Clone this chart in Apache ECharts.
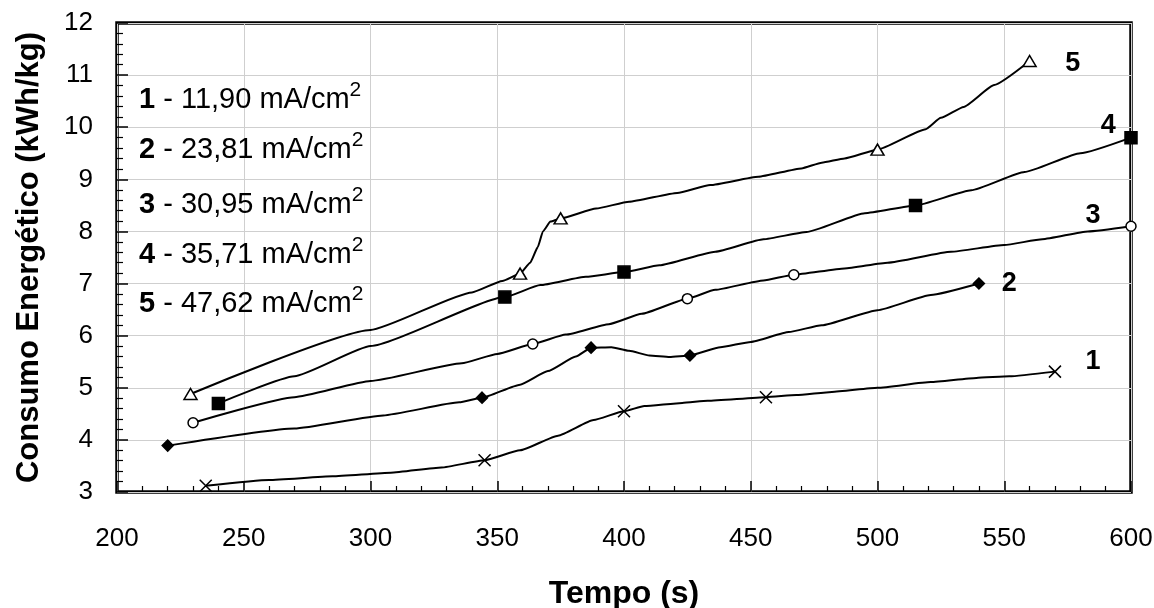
<!doctype html>
<html lang="pt">
<head>
    <meta charset="UTF-8">
    <title>Consumo Energético</title>
    <style>
        html, body { margin: 0; padding: 0; background: #fff; }
        #chart { width: 1154px; height: 608px; }
    </style>
</head>
<body>
    <div id="chart"></div>

    <script src="https://cdn.jsdelivr.net/npm/echarts@6/dist/echarts.min.js"></script>
    <script>
        // curvas (tempo s, consumo kWh/kg) e pontos marcados
        var curve1 = [[235,3.12],[260,3.23],[285,3.30],[308,3.37],[328,3.47],[345,3.61],[359,3.80],[374,4.08],[388,4.38],[400,4.55],[408,4.65],[423,4.71],[433,4.75],[456,4.82],[468,4.86],[482,4.92],[500,5.00],[521,5.11],[539,5.19],[552,5.22],[570,5.31]];
        var marks1 = [[235,3.12],[345,3.61],[400,4.55],[456,4.82],[570,5.31]];

        var curve2 = [[220,3.89],[270,4.22],[305,4.47],[335,4.72],[344,4.81],[359,5.06],[370,5.32],[381,5.60],[387,5.77],[395,5.78],[402,5.71],[410,5.62],[418,5.59],[426,5.62],[438,5.78],[450,5.88],[465,6.07],[478,6.20],[500,6.49],[521,6.78],[540,7.00]];
        var marks2 = [[220,3.89],[344,4.81],[387,5.77],[426,5.62],[540,7.00]];

        var curve3 = [[230,4.33],[270,4.82],[300,5.13],[336,5.47],[350,5.65],[364,5.84],[377,6.02],[394,6.22],[407,6.42],[425,6.71],[436,6.88],[455,7.06],[467,7.17],[487,7.29],[504,7.40],[529,7.61],[550,7.74],[565,7.85],[583,8.00],[600,8.10]];
        var marks3 = [[230,4.33],[364,5.84],[425,6.71],[467,7.17],[600,8.10]];

        var curve4 = [[240,4.70],[270,5.22],[300,5.80],[353,6.74],[367,6.97],[385,7.13],[400,7.22],[414,7.35],[436,7.61],[455,7.85],[472,7.99],[495,8.35],[515,8.50],[537,8.79],[558,9.14],[580,9.50],[600,9.80]];
        var marks4 = [[240,4.70],[353,6.74],[400,7.22],[515,8.50],[600,9.80]];

        var curve5 = [[229,4.88],[300,6.11],[340,6.83],[352,7.05],[359,7.19],[363,7.40],[366,7.70],[368,8.00],[371,8.19],[375,8.25],[389,8.44],[402,8.57],[421,8.74],[434,8.89],[453,9.05],[470,9.21],[478,9.32],[487,9.40],[500,9.57],[519,9.96],[525,10.18],[534,10.39],[546,10.81],[560,11.27]];
        var marks5 = [[229,4.88],[359,7.19],[375,8.25],[500,9.57],[560,11.27]];

        // números das curvas
        var curveLabels = [[585,5.50,'1'],[552,7.00,'2'],[585,8.31,'3'],[591,10.04,'4'],[577,11.22,'5']];

        // legenda
        var legendNums = ['1','2','3','4','5'];
        var legendVals = ['11,90','23,81','30,95','35,71','47,62'];
        var legendTops = [80, 130, 185, 235, 284];

        var font = 'Arial, "Liberation Sans", sans-serif';

        var myChart = echarts.init(document.getElementById('chart'));

        function lineSeries(data) {
            return {
                type: 'line',
                data: data,
                smooth: 0.15,
                smoothMonotone: 'x',
                symbol: 'none',
                lineStyle: { color: '#000', width: 2 },
                z: 3
            };
        }

        function markSeries(data, symbol, size, fill) {
            return {
                type: 'scatter',
                data: data,
                symbol: symbol,
                symbolSize: size,
                itemStyle: { color: fill, borderColor: '#000', borderWidth: 1.5, opacity: 1 },
                z: 4
            };
        }

        var option = {
            animation: false,
            backgroundColor: '#fff',
            grid: {
                left: 117, right: 23, top: 23, bottom: 116,
                containLabel: false,
                outerBoundsMode: 'none',
                show: true,
                borderColor: '#000',
                borderWidth: 3.5
            },
            xAxis: {
                type: 'value',
                min: 200, max: 600, interval: 50,
                name: 'Tempo (s)',
                nameLocation: 'middle',
                nameGap: 86,
                nameTextStyle: { fontSize: 32, fontWeight: 'bold', color: '#000', fontFamily: font },
                axisLine: { show: false },
                axisTick: { inside: true, length: 11, lineStyle: { color: '#000', width: 1.5 } },
                minorTick: { show: true, splitNumber: 5, length: 6, lineStyle: { color: '#000', width: 1.2 } },
                splitLine: { show: true, lineStyle: { color: '#cfcfcf', width: 1 } },
                axisLabel: { fontSize: 26, color: '#000', fontFamily: font, margin: 34 }
            },
            yAxis: {
                type: 'value',
                min: 3, max: 12, interval: 1,
                name: 'Consumo Energético (kWh/kg)',
                nameLocation: 'middle',
                nameGap: 72,
                nameTextStyle: { fontSize: 31, fontWeight: 'bold', color: '#000', fontFamily: font },
                axisLine: { show: false },
                axisTick: { inside: true, length: 11, lineStyle: { color: '#000', width: 1.5 } },
                minorTick: { show: true, splitNumber: 5, length: 6, lineStyle: { color: '#000', width: 1.2 } },
                splitLine: { show: true, lineStyle: { color: '#cfcfcf', width: 1 } },
                axisLabel: { fontSize: 26, color: '#000', fontFamily: font, margin: 24 }
            },
            graphic: legendNums.map(function (n, i) {
                return {
                    type: 'text',
                    left: 139,
                    top: legendTops[i],
                    style: {
                        text: '{b|' + n + '}{n| - ' + legendVals[i] + ' mA/cm}{s|2}',
                        rich: {
                            b: { fontSize: 29, fontWeight: 'bold', fontFamily: font, fill: '#000', lineHeight: 40 },
                            n: { fontSize: 29, fontFamily: font, fill: '#000', lineHeight: 40 },
                            s: { fontSize: 21, fontFamily: font, fill: '#000', lineHeight: 20, verticalAlign: 'top' }
                        }
                    },
                    z: 10
                };
            }),
            series: [
                lineSeries(curve1), lineSeries(curve2), lineSeries(curve3), lineSeries(curve4), lineSeries(curve5),
                markSeries(marks1, 'path://M0,0L12,12M12,0L0,12', 12, 'transparent'),
                markSeries(marks2, 'diamond', 11, '#000'),
                markSeries(marks3, 'circle', 10, '#fff'),
                markSeries(marks4, 'rect', 12, '#000'),
                markSeries(marks5, 'triangle', [13, 11], '#fff'),
                {
                    type: 'scatter',
                    data: curveLabels,
                    symbolSize: 0,
                    itemStyle: { color: '#000', opacity: 1 },
                    label: {
                        show: true,
                        position: 'inside',
                        formatter: function (p) { return p.value[2]; },
                        fontSize: 27,
                        fontWeight: 'bold',
                        color: '#000',
                        opacity: 1,
                        textBorderWidth: 0,
                        textBorderColor: 'transparent',
                        textShadowBlur: 0,
                        textShadowColor: 'transparent',
                        fontFamily: font
                    },
                    z: 5
                }
            ]
        };

        myChart.setOption(option);
    </script>
</body>
</html>
